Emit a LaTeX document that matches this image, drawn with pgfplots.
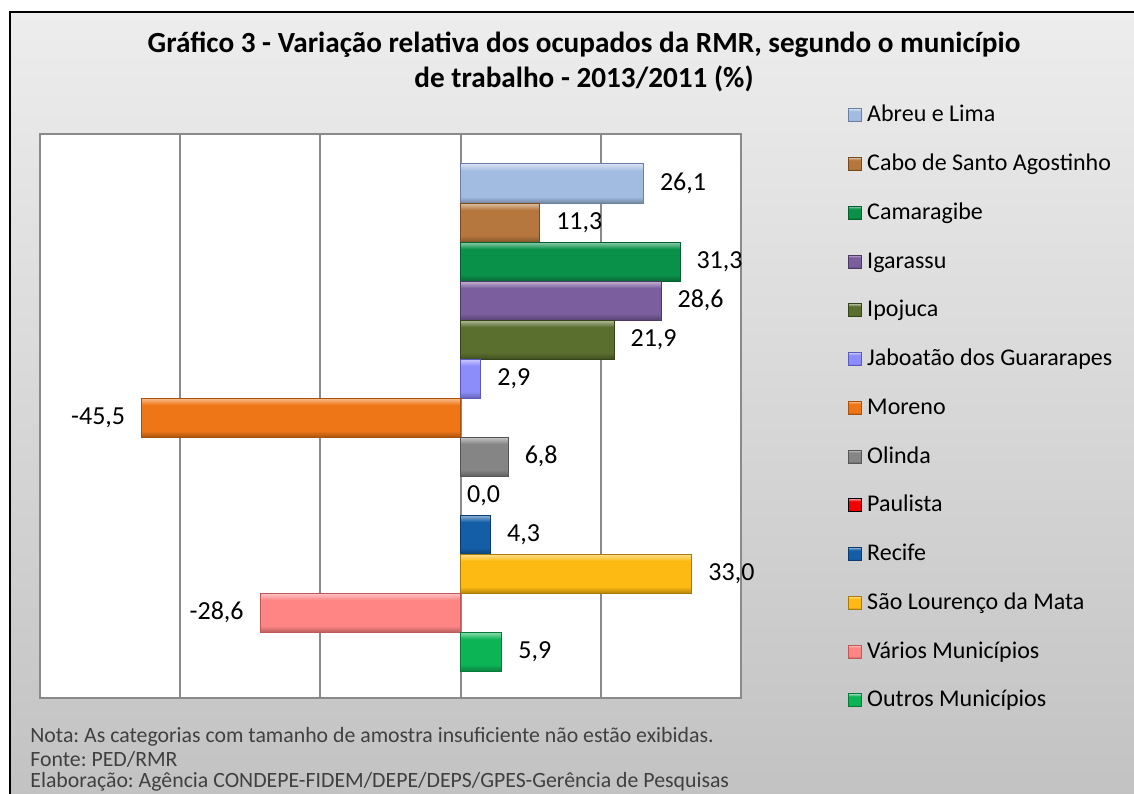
\documentclass[border=0pt]{standalone}
\usepackage{pgfplots}
\pgfplotsset{compat=1.18}
\usepackage{fontspec}
\setmainfont{Carlito}
\frenchspacing
\definecolor{bgtop}{HTML}{EDEDED}
\definecolor{bgbot}{HTML}{C2C2C2}
\definecolor{gridc}{HTML}{8A8A8A}
\definecolor{notec}{HTML}{404040}
\definecolor{f0}{HTML}{A2BBE0}\definecolor{d0}{HTML}{6A7FA3}
\definecolor{f1}{HTML}{B5773E}\definecolor{d1}{HTML}{7A4A1E}
\definecolor{f2}{HTML}{0A9149}\definecolor{d2}{HTML}{05602F}
\definecolor{f3}{HTML}{7A5E9E}\definecolor{d3}{HTML}{4C3A66}
\definecolor{f4}{HTML}{5A6E2E}\definecolor{d4}{HTML}{35431A}
\definecolor{f5}{HTML}{8C8CFA}\definecolor{d5}{HTML}{5A5AC0}
\definecolor{f6}{HTML}{EF7616}\definecolor{d6}{HTML}{A9500C}
\definecolor{f7}{HTML}{858585}\definecolor{d7}{HTML}{555555}
\definecolor{f8}{HTML}{F00000}\definecolor{d8}{HTML}{A00000}
\definecolor{f9}{HTML}{135EA6}\definecolor{d9}{HTML}{0B3C6E}
\definecolor{f10}{HTML}{FDBA12}\definecolor{d10}{HTML}{A87A08}
\definecolor{f11}{HTML}{FF8585}\definecolor{d11}{HTML}{C05858}
\definecolor{f12}{HTML}{0DB456}\definecolor{d12}{HTML}{077A39}
\colorlet{bevbase}{gray}\colorlet{bevlight}{white}\colorlet{bevdark}{black}
\pgfdeclareverticalshading[bevlight,bevbase,bevdark]{bevel}{100bp}{%
  color(0bp)=(bevdark); color(25bp)=(bevdark); color(33bp)=(bevbase);
  color(66bp)=(bevbase); color(75bp)=(bevlight); color(100bp)=(bevlight)}
\tikzset{bev/.style={/utils/exec={\colorlet{bevbase}{#1}\colorlet{bevlight}{#1!45!white}\colorlet{bevdark}{#1!72!black}},
  shading=bevel}}
\begin{document}
\begin{tikzpicture}[x=0.5pt,y=-0.5pt]
\useasboundingbox (0,0) rectangle (1134,793);
\begin{scope}
\clip (0,0) rectangle (1134,793);
\shade[top color=bgtop, bottom color=bgbot] (10,12) rectangle (1150,800);
\draw[line width=1pt] (10,12) rectangle (1150,800);
\end{scope}
\node[font=\bfseries\fontsize{14.6}{17.5}\selectfont, align=center] at (584,62)
  {Gráfico 3 - Variação relativa dos ocupados da RMR, segundo o município\\de trabalho - 2013/2011 (\%)};
\begin{axis}[
  at={(20pt,-349pt)}, anchor=south west,
  scale only axis, width=350.5pt, height=282pt,
  xmin=-60, xmax=40, ymin=-1.192, ymax=13.269,
  xtick={-60,-40,...,40}, xticklabels={}, ytick=\empty,
  major tick length=0pt,
  xmajorgrids, grid style={draw=gridc, line width=1pt},
  axis line style={draw=gridc, line width=1pt},
  axis background/.style={fill=white},
  clip=false,
  every axis plot/.append style={xbar, bar width=1, bar shift=0pt, line width=0.5pt,
    legend image code/.code={\draw[##1, line width=0.4pt] (0pt,-3.25pt) rectangle (6.5pt,3.25pt);}},
  point meta=x,
  nodes near coords={\pgfmathprintnumber[fixed,fixed zerofill,precision=1,use comma,assume math mode=true]{\pgfplotspointmeta}},
  nodes near coords align=horizontal,
  every node near coord/.append style={font=\fontsize{13}{15}\selectfont, text=black, inner xsep=8pt},
  legend cell align=left,
  legend style={at={(1.1527,1.077)}, anchor=north west, draw=none, fill=none,
    inner sep=0pt, row sep=0pt, column sep=2.5pt,
    font=\fontsize{12}{14}\selectfont,
    nodes={inner sep=0pt, text height=15.4pt, text depth=8.975pt}},
]
\addplot[shade, bev=f0, draw=d0] coordinates {(26.1,12)};
\addlegendentry{Abreu e Lima}
\addplot[shade, bev=f1, draw=d1] coordinates {(11.3,11)};
\addlegendentry{Cabo de Santo Agostinho}
\addplot[shade, bev=f2, draw=d2] coordinates {(31.3,10)};
\addlegendentry{Camaragibe}
\addplot[shade, bev=f3, draw=d3] coordinates {(28.6,9)};
\addlegendentry{Igarassu}
\addplot[shade, bev=f4, draw=d4] coordinates {(21.9,8)};
\addlegendentry{Ipojuca}
\addplot[shade, bev=f5, draw=d5] coordinates {(2.9,7)};
\addlegendentry{Jaboatão dos Guararapes}
\addplot[shade, bev=f6, draw=d6] coordinates {(-45.5,6)};
\addlegendentry{Moreno}
\addplot[shade, bev=f7, draw=d7] coordinates {(6.8,5)};
\addlegendentry{Olinda}
\addplot[shade, bev=f8, draw=none, every node near coord/.append style={xshift=-5pt}] coordinates {(0.0,4)};
\addlegendentry{Paulista}
\addplot[shade, bev=f9, draw=d9] coordinates {(4.3,3)};
\addlegendentry{Recife}
\addplot[shade, bev=f10, draw=d10] coordinates {(33.0,2)};
\addlegendentry{São Lourenço da Mata}
\addplot[shade, bev=f11, draw=d11] coordinates {(-28.6,1)};
\addlegendentry{Vários Municípios}
\addplot[shade, bev=f12, draw=d12] coordinates {(5.9,0)};
\addlegendentry{Outros Municípios}
\end{axis}
\begin{scope}[every node/.style={anchor=west, inner sep=0pt, text=notec, font=\fontsize{10.9}{12}\selectfont}]
\node at (30,737) {Nota: As categorias com tamanho de amostra insuficiente não estão exibidas.};
\node at (30,759) {Fonte: PED/RMR};
\node at (30,782) {Elaboração: Agência CONDEPE-FIDEM/DEPE/DEPS/GPES-Gerência de Pesquisas};
\end{scope}
\end{tikzpicture}
\end{document}
